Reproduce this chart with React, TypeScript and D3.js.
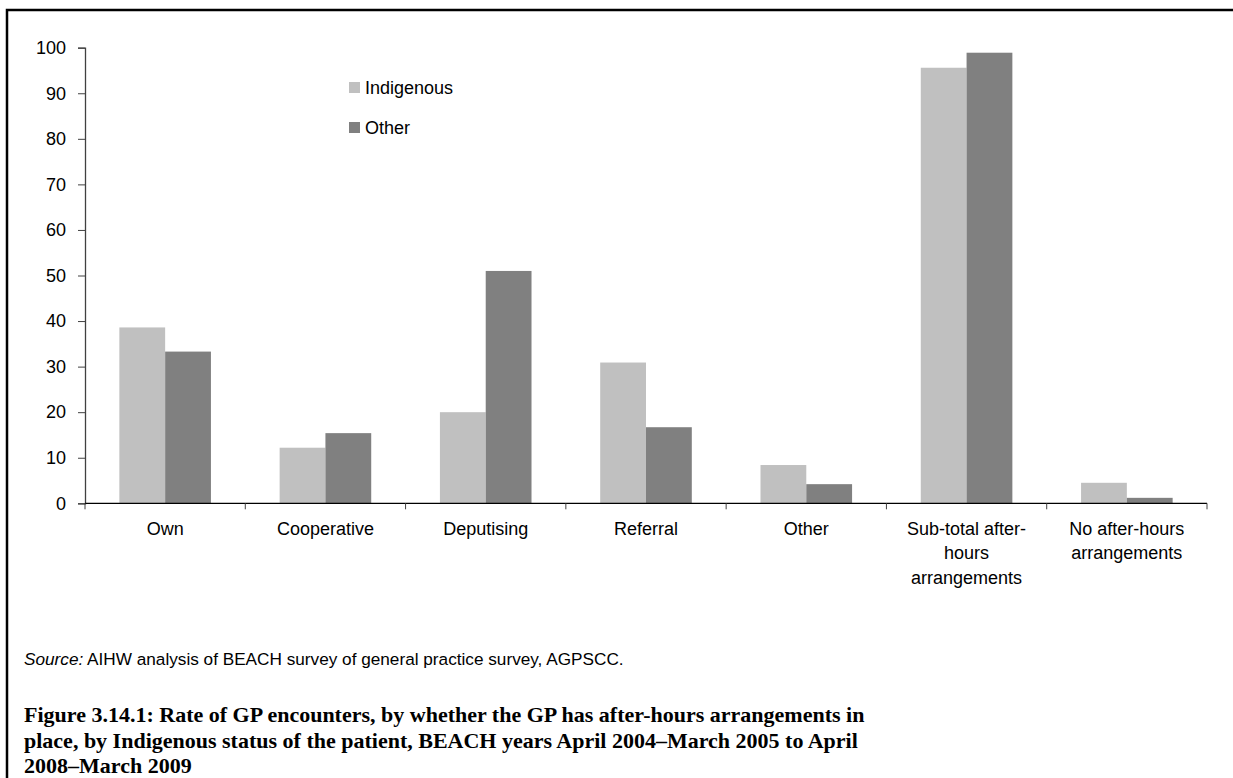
import React, { useEffect, useRef } from 'react';
import * as d3 from 'd3';

// categories (wrapped labels as lines)
const categories = ['Own', 'Cooperative', 'Deputising', 'Referral', 'Other', 'Sub-total after-hours arrangements', 'No after-hours arrangements'];
const categoryLines = [
  ['Own'],
  ['Cooperative'],
  ['Deputising'],
  ['Referral'],
  ['Other'],
  ['Sub-total after-', 'hours', 'arrangements'],
  ['No after-hours', 'arrangements'],
];
const seriesNames = ['Indigenous', 'Other'];
const indigenousValues = [38.6, 12.2, 20.0, 30.9, 8.4, 95.6, 4.5];
const otherValues = [33.3, 15.4, 51.0, 16.7, 4.2, 98.9, 1.2];
const yTicks = [0, 10, 20, 30, 40, 50, 60, 70, 80, 90, 100];
const seriesColors = ['#c0c0c0', '#808080'];

const W = 1233;
const H = 778;

const App = () => {
  const ref = useRef<SVGSVGElement>(null);

  useEffect(() => {
    const svg = d3.select(ref.current);
    svg.selectAll('*').remove();

    const font = 'Liberation Sans, Arial, sans-serif';

    // frame
    svg.append('path')
      .attr('d', `M7,${H + 2} L7,10 L${W + 2},10`)
      .attr('fill', 'none')
      .attr('stroke', '#000')
      .attr('stroke-width', 2.5);

    const x = d3.scaleBand().domain(categories).range([85, 1207]).padding(0);
    const xs = d3.scaleBand().domain(seriesNames).range([0, x.bandwidth()]).paddingInner(0).paddingOuter(0.75);
    const y = d3.scaleLinear().domain([0, 100]).range([503.3, 47.7]);

    const data = categories.map((c, i) => ({ cat: c, values: [indigenousValues[i], otherValues[i]] }));

    // bars
    const groups = svg.append('g').selectAll('g').data(data).enter().append('g')
      .attr('transform', (d) => `translate(${x(d.cat)},0)`);
    groups.selectAll('rect')
      .data((d) => d.values.map((v, j) => ({ v, s: seriesNames[j], j })))
      .enter().append('rect')
      .attr('x', (d) => xs(d.s)!)
      .attr('y', (d) => y(d.v))
      .attr('width', xs.bandwidth())
      .attr('height', (d) => y(0) - y(d.v))
      .attr('fill', (d) => seriesColors[d.j]);

    // y axis
    const yAxis = svg.append('g')
      .attr('transform', 'translate(85,0)')
      .call(d3.axisLeft(y).tickValues(yTicks).tickSize(7).tickPadding(12));
    yAxis.select('.domain').attr('stroke', '#404040').attr('stroke-width', 1.3);
    yAxis.selectAll('.tick line').attr('stroke', '#404040');
    yAxis.selectAll('.tick text')
      .attr('font-family', font).attr('font-size', 18).attr('fill', '#000');

    // x axis line + boundary ticks
    svg.append('line')
      .attr('x1', 85).attr('x2', 1207)
      .attr('y1', y(0)).attr('y2', y(0))
      .attr('stroke', '#000').attr('stroke-width', 1.3);
    const bounds = categories.map((c) => x(c)!).concat([x.range()[1]]);
    svg.append('g').selectAll('line').data(bounds).enter().append('line')
      .attr('x1', (d) => d).attr('x2', (d) => d)
      .attr('y1', y(0)).attr('y2', y(0) + 6)
      .attr('stroke', '#404040');

    // category labels
    const lab = svg.append('g').selectAll('text').data(data).enter().append('text')
      .attr('font-family', font).attr('font-size', 18).attr('text-anchor', 'middle').attr('fill', '#000');
    lab.selectAll('tspan')
      .data((d, i) => categoryLines[i].map((t) => ({ t, cx: x(d.cat)! + x.bandwidth() / 2 })))
      .enter().append('tspan')
      .attr('x', (d) => d.cx)
      .attr('y', (d, k) => 534.5 + k * 24.5)
      .text((d) => d.t);

    // legend
    const leg = svg.append('g').selectAll('g').data(seriesNames).enter().append('g')
      .attr('transform', (d, i) => `translate(349,${82 + i * 40})`);
    leg.append('rect').attr('width', 11).attr('height', 11)
      .attr('fill', (d, i) => seriesColors[i]);
    leg.append('text').attr('x', 16).attr('y', 12)
      .attr('font-family', font).attr('font-size', 18).attr('fill', '#000')
      .text((d) => d);

    // source note
    const src = svg.append('text').attr('x', 24).attr('y', 665)
      .attr('font-family', font).attr('font-size', 17.2).attr('fill', '#000');
    src.append('tspan').attr('font-style', 'italic').text('Source:');
    src.append('tspan').text(' AIHW analysis of BEACH survey of general practice survey, AGPSCC.');

    // figure title
    const titleLines = [
      'Figure 3.14.1: Rate of GP encounters, by whether the GP has after-hours arrangements in',
      'place, by Indigenous status of the patient, BEACH years April 2004\u2013March 2005 to April',
      '2008\u2013March 2009',
    ];
    svg.append('g').selectAll('text').data(titleLines).enter().append('text')
      .attr('x', 24).attr('y', (d, i) => 722 + i * 25.5)
      .attr('font-family', 'Liberation Serif, serif').attr('font-weight', 'bold')
      .attr('font-size', 22).attr('fill', '#000')
      .text((d) => d);
  }, []);

  return (
    <svg ref={ref} width={W} height={H}
      style={{ position: 'absolute', left: 0, top: 0, background: '#fff' }} />
  );
};

export default App;
